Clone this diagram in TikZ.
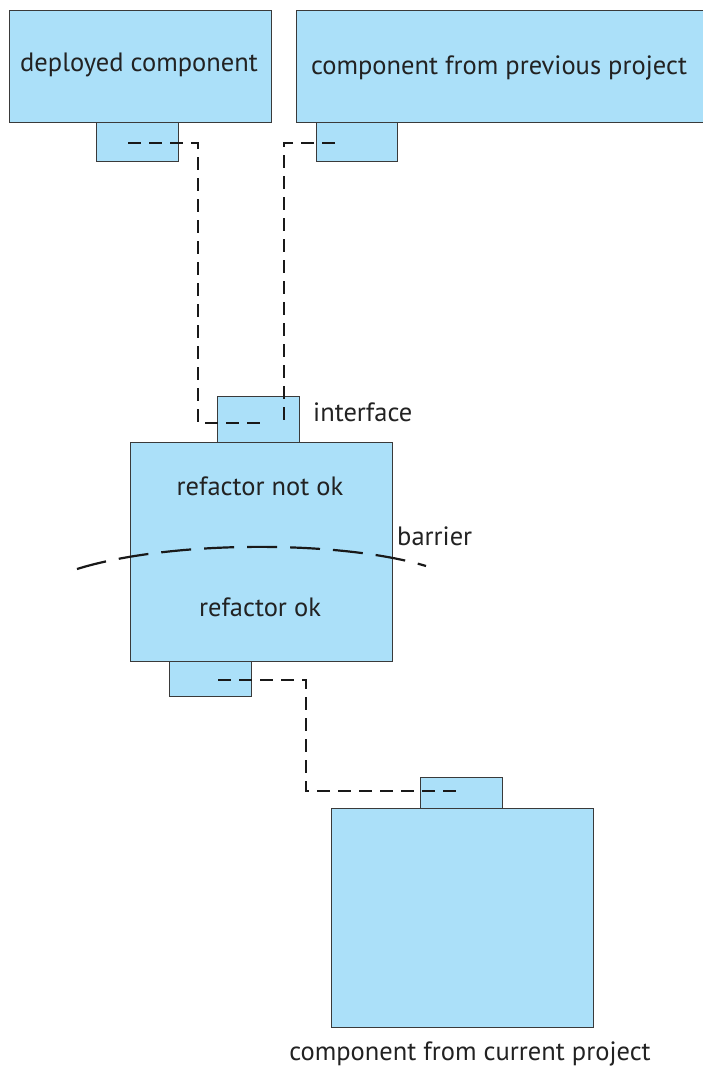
\documentclass[tikz,border=0pt]{standalone}
\usepackage{fontspec}
\setmainfont{PT Sans}
\definecolor{boxblue}{HTML}{ABE0F9}
\definecolor{boxline}{HTML}{3A3A3A}
\definecolor{txt}{HTML}{222222}
\begin{document}
\begin{tikzpicture}[x=1pt,y=-1pt,
  comp/.style={draw=boxline,fill=boxblue,line width=1pt,rectangle,inner sep=0pt},
  lbl/.style={inner sep=0pt,font=\fontsize{26.5}{30}\selectfont,text=txt},
  link/.style={draw=black!90,line width=2pt,dash pattern=on 13pt off 8pt},
  barrierline/.style={draw=black!90,line width=2.2pt,dash pattern=on 30pt off 13pt}]
\useasboundingbox (0,0) rectangle (702,1070);
% top components
\node[comp,minimum width=262pt,minimum height=112pt,anchor=north west] (dc) at (9,10) {};
\node[comp,minimum width=408pt,minimum height=112pt,anchor=north west] (pp) at (296,10) {};
\node[lbl] (dclbl) at (139,65) {deployed component};
\node[lbl] (pplbl) at (499,68) {component from previous project};
\node[comp,minimum width=82pt,minimum height=39pt,anchor=north west] (dcp) at (96,122) {};
\node[comp,minimum width=81pt,minimum height=39pt,anchor=north west] (ppp) at (316,122) {};
% middle component
\node[comp,minimum width=82pt,minimum height=46pt,anchor=north west] (ifp) at (217,396) {};
\node[comp,minimum width=262pt,minimum height=219pt,anchor=north west] (mid) at (130,442) {};
\node[comp,minimum width=82pt,minimum height=35pt,anchor=north west] (midp) at (169,661) {};
\node[lbl] (notok) at (260,486) {refactor not ok};
\node[lbl] (ok) at (260,607) {refactor ok};
\node[lbl,anchor=west] (iflbl) at (313,412) {interface};
\node[lbl,anchor=west] (barlbl) at (397,536) {barrier};
% bottom component
\node[comp,minimum width=82pt,minimum height=31pt,anchor=north west] (cpp) at (420,777) {};
\node[comp,minimum width=262pt,minimum height=219pt,anchor=north west] (cp) at (331,808) {};
\node[lbl] (cplbl) at (470,1054) {component from current project};
% connector end points
\coordinate (a1) at (128,143);
\coordinate (a2) at (265,423);
\coordinate (b1) at (335,143);
\coordinate (b2) at (284,423);
\coordinate (c1) at (218,680);
\coordinate (c2) at (460,791);
\draw[link] (a1) -- (198,143) -- (198,423) -- (a2);
\draw[link] (b1) -- (284,143) -- (b2);
\draw[link] (c1) -- (306,680) -- (306,791) -- (c2);
% barrier
\coordinate (bs) at (77,569);
\coordinate (be) at (426,566);
\draw[barrierline] (bs) .. controls (170,540) and (340,540) .. (be);
\end{tikzpicture}
\end{document}
